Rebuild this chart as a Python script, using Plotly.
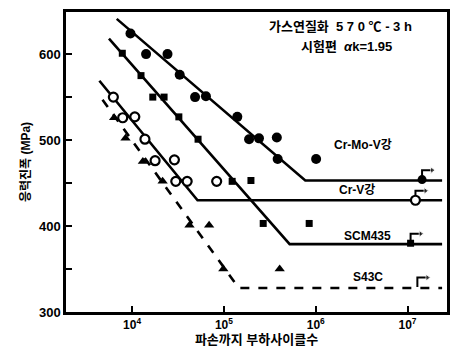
import math
import plotly.graph_objects as go

FONT = "Liberation Sans, Noto Sans CJK KR, sans-serif"

# ---- data ----
crmov_n = [9600, 14200, 24300, 33000, 48500, 63700, 140000, 188000, 241000, 377000, 385000, 1010000]
crmov_s = [624, 600, 600, 576, 550, 551, 527, 501, 502, 503, 478, 478]
crmov_line_n = [6800, 770000, 23800000]
crmov_line_s = [641, 453, 453]
crmov_runout_n = [14400000]
crmov_runout_s = [454]

crv_n = [6250, 7900, 10700, 13800, 17800, 28900, 29900, 39800, 83400]
crv_s = [550, 526, 527, 501, 476, 477, 452, 452, 452]
crv_line_n = [4400, 51600, 23800000]
crv_line_s = [569, 430, 430]
crv_runout_n = [12200000]
crv_runout_s = [430]

scm_n = [7820, 12500, 16800, 22300, 32300, 52300, 123000, 197000, 268000, 849000]
scm_s = [601, 575, 550, 550, 527, 501, 452, 453, 403, 403]
scm_line_n = [5600, 520000, 23800000]
scm_line_s = [618, 379, 379]
scm_runout_n = [10800000]
scm_runout_s = [380]

s43c_n = [6370, 8480, 13100, 21500, 42200, 69000, 98600, 405000]
s43c_s = [526, 502, 475, 452, 401, 401, 350, 350]
s43c_line_n = [4760, 145000, 23800000]
s43c_line_s = [547, 328, 328]
s43c_runout_n = [12800000]
s43c_runout_s = [329]

x_tickvals = [1e4, 1e5, 1e6, 1e7]
x_ticktext = ["<b>10<sup>4</sup></b>", "<b>10<sup>5</sup></b>", "<b>10<sup>6</sup></b>", "<b>10<sup>7</sup></b>"]
y_tickvals = [300, 400, 500, 600]
y_ticktext = ["<b>300</b>", "<b>400</b>", "<b>500</b>", "<b>600</b>"]
y_minor_tickvals = [350, 450, 550]

labels = ["Cr-Mo-V강", "Cr-V강", "SCM435", "S43C"]
label_n = [3.3e6, 2.8e6, 3.7e6, 3.7e6]
label_s = [494, 442, 388, 341]

fig = go.Figure()

def line(n, s, dash):
    fig.add_trace(go.Scatter(x=n, y=s, mode="lines",
                             line=dict(color="black", width=2.6, dash=dash),
                             showlegend=False, hoverinfo="skip"))

def pts(n, s, symbol, size, lw=0, fill="black"):
    fig.add_trace(go.Scatter(x=n, y=s, mode="markers",
                             marker=dict(symbol=symbol, size=size, color=fill,
                                         line=dict(color="black", width=lw)),
                             showlegend=False))

def runout(n, s):
    # small hook rising from the run-out point, ending in an arrow to the right
    hx = [n[0], n[0], n[0] * 10 ** 0.11]
    hy = [s[0], s[0] + 11, s[0] + 11]
    fig.add_trace(go.Scatter(x=hx, y=hy, mode="lines+markers",
                             line=dict(color="black", width=2),
                             marker=dict(symbol="triangle-right", size=[0, 0, 6], color="black"),
                             showlegend=False, hoverinfo="skip"))

line(crmov_line_n, crmov_line_s, "solid")
line(crv_line_n, crv_line_s, "solid")
line(scm_line_n, scm_line_s, "solid")
line(s43c_line_n, s43c_line_s, "dash")

for rn, rs in [(crmov_runout_n, crmov_runout_s), (crv_runout_n, crv_runout_s),
               (scm_runout_n, scm_runout_s), (s43c_runout_n, s43c_runout_s)]:
    runout(rn, rs)

pts(crmov_n, crmov_s, "circle", 10)
pts(crmov_runout_n, crmov_runout_s, "circle", 9)
pts(crv_n, crv_s, "circle", 9, 2.2, "white")
pts(crv_runout_n, crv_runout_s, "circle", 9, 2.2, "white")
pts(scm_n, scm_s, "square", 7)
pts(scm_runout_n, scm_runout_s, "square", 7)
pts(s43c_n, s43c_s, "triangle-up", 9)

for t, n, s in zip(labels, label_n, label_s):
    fig.add_annotation(x=math.log10(n), y=s, xref="x", yref="y", text="<b>" + t + "</b>",
                       showarrow=False, xanchor="center", yanchor="middle",
                       font=dict(size=12, color="black", family=FONT))

fig.add_annotation(x=0.72, y=0.985, xref="paper", yref="paper",
                   text="<b>가스연질화  5 7 0 ℃ - 3 h</b>", showarrow=False,
                   xanchor="center", yanchor="top",
                   font=dict(size=13, color="black", family=FONT))
fig.add_annotation(x=0.735, y=0.915, xref="paper", yref="paper",
                   text="<b>시험편  <i>α</i>k=1.95</b>", showarrow=False,
                   xanchor="center", yanchor="top",
                   font=dict(size=13, color="black", family=FONT))

fig.update_layout(
    width=458, height=354,
    margin=dict(l=66, r=8, t=12, b=42),
    paper_bgcolor="white", plot_bgcolor="white",
    font=dict(family=FONT, color="black", size=12),
    showlegend=False,
)
fig.update_xaxes(type="log", range=[3.28, 7.43], tickvals=x_tickvals, ticktext=x_ticktext,
                 ticks="inside", ticklen=6, tickwidth=2, tickcolor="black",
                 showline=True, linewidth=2.5, linecolor="black", mirror=True,
                 showgrid=False, zeroline=False,
                 tickfont=dict(size=12, family=FONT),
                 title=dict(text="<b>파손까지 부하사이클수</b>", standoff=4,
                            font=dict(size=13, family=FONT)))
fig.update_yaxes(range=[300, 649], tickvals=y_tickvals, ticktext=y_ticktext,
                 ticks="inside", ticklen=6, tickwidth=2, tickcolor="black",
                 minor=dict(tickvals=y_minor_tickvals, ticks="inside", ticklen=6,
                            tickwidth=2, tickcolor="black", showgrid=False),
                 showline=True, linewidth=2.5, linecolor="black", mirror=True,
                 showgrid=False, zeroline=False,
                 tickfont=dict(size=13, family=FONT),
                 title=dict(text="<b>응력진폭 (MPa)</b>", standoff=6,
                            font=dict(size=12, family=FONT)))

fig.write_html("out.html")
